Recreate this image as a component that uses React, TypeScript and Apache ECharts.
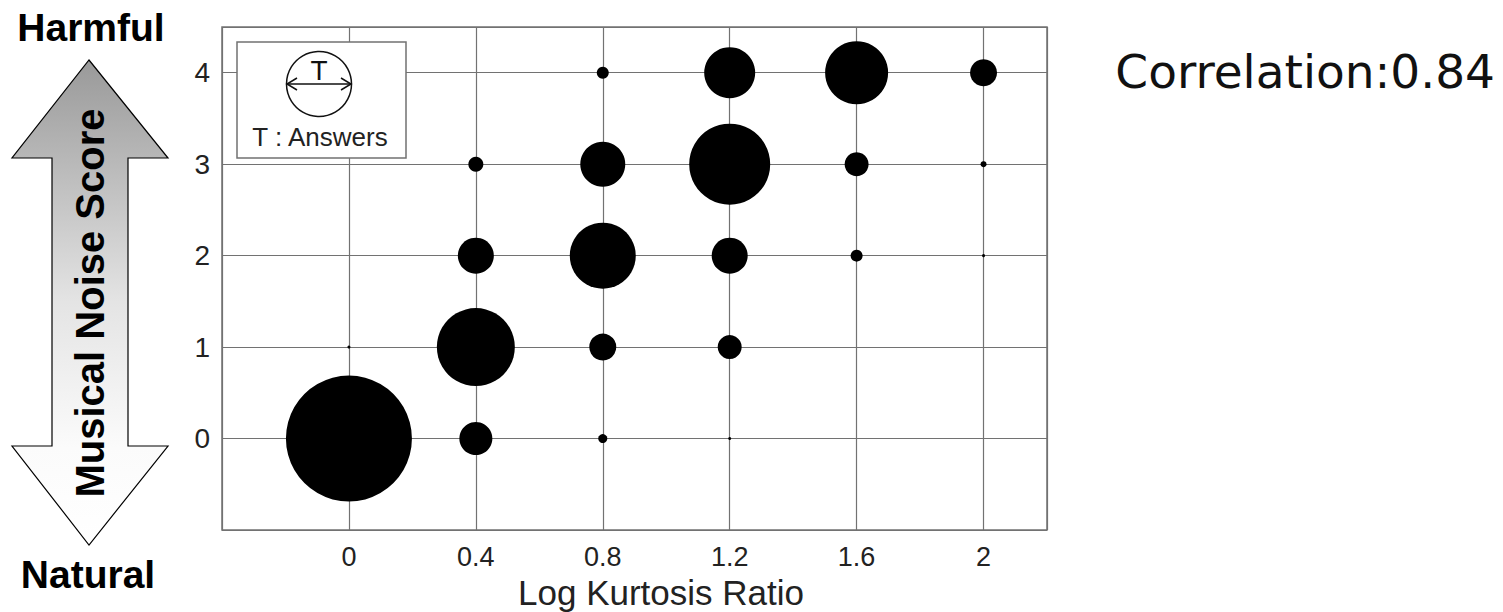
import React, { useEffect, useRef } from "react";
import * as echarts from "echarts";

// Axis ticks
const xTickValues = [0, 0.4, 0.8, 1.2, 1.6, 2];
const yTickValues = [0, 1, 2, 3, 4];

// Bubbles: log kurtosis ratio, musical noise score, number of answers
const pointX = [0, 0, 0.4, 0.4, 0.4, 0.4, 0.8, 0.8, 0.8, 0.8, 0.8, 1.2, 1.2, 1.2, 1.2, 1.2, 1.6, 1.6, 1.6, 2, 2, 2];
const pointY = [0, 1, 0, 1, 2, 3, 0, 1, 2, 3, 4, 0, 1, 2, 3, 4, 2, 3, 4, 2, 3, 4];
const answers = [42, 1, 11, 26, 12, 5, 3, 9, 22, 15, 4, 1, 8, 12, 27, 17, 4, 8, 21, 1, 2, 9];

const correlationText = "Correlation:0.84";
const xAxisTitle = "Log Kurtosis Ratio";
const yAxisTitle = "Musical Noise Score";
const topLabel = "Harmful";
const bottomLabel = "Natural";
const legendLabel = "T : Answers";

const PX_PER_ANSWER = 3;
const SANS = "'Liberation Sans', Arial, sans-serif";

export default function App() {
  const ref = useRef<HTMLDivElement>(null);

  useEffect(() => {
    if (!ref.current) return;
    const chart = echarts.init(ref.current, undefined, { renderer: "svg" });
    const data = pointX.map((x, i) => [x, pointY[i], answers[i]]);
    const fmtX = (v: number) => {
      const r = Math.round(v * 10) / 10;
      return xTickValues.some((t) => Math.abs(t - r) < 1e-6) ? String(r) : "";
    };
    const fmtY = (v: number) => {
      const r = Math.round(v * 10) / 10;
      return yTickValues.some((t) => Math.abs(t - r) < 1e-6) ? String(r) : "";
    };
    const gridColor = "#727272";
    const centered = { align: "center", verticalAlign: "middle", textAlign: "center", textVerticalAlign: "middle" };
    chart.setOption({
      animation: false,
      backgroundColor: "#ffffff",
      grid: {
        left: 222,
        right: 456,
        top: 27,
        bottom: 82,
        show: true,
        borderColor: gridColor,
        borderWidth: 1.5,
        backgroundColor: "transparent",
      },
      xAxis: {
        type: "value",
        min: -0.4,
        max: 2.2,
        interval: 0.4,
        axisLine: { show: false },
        axisTick: { show: false },
        splitLine: { show: true, lineStyle: { color: gridColor, width: 1.2 } },
        axisLabel: {
          formatter: fmtX,
          fontFamily: SANS,
          fontSize: 27,
          lineHeight: 27,
          color: "#222",
          margin: 13,
          showMinLabel: true,
          showMaxLabel: true,
        },
      },
      yAxis: {
        type: "value",
        min: -1,
        max: 4.5,
        interval: 1,
        axisLine: { show: false },
        axisTick: { show: false },
        splitLine: { show: true, lineStyle: { color: gridColor, width: 1.2 } },
        axisLabel: {
          formatter: fmtY,
          fontFamily: SANS,
          fontSize: 28,
          color: "#222",
          margin: 12,
        },
      },
      series: [
        {
          type: "scatter",
          data,
          symbol: "circle",
          symbolSize: (v: number[]) => v[2] * PX_PER_ANSWER,
          itemStyle: { color: "#000000", opacity: 1 },
          z: 3,
        },
      ],
      graphic: [
        // Double arrow on the left
        {
          type: "polygon",
          z: 10,
          shape: {
            points: [
              [89, 60],
              [168, 158],
              [128, 158],
              [128, 446],
              [168, 446],
              [89, 545],
              [12, 446],
              [52, 446],
              [52, 158],
              [12, 158],
            ],
          },
          style: {
            fill: new echarts.graphic.LinearGradient(0, 0, 0, 1, [
              { offset: 0, color: "#999999" },
              { offset: 0.5, color: "#e4e4e4" },
              { offset: 0.8, color: "#fbfbfb" },
              { offset: 1, color: "#ffffff" },
            ]),
            stroke: "#000",
            lineWidth: 1.2,
          },
        },
        {
          type: "text",
          z: 11,
          x: 90,
          y: 303,
          rotation: Math.PI / 2,
          style: {
            text: yAxisTitle,
            fontFamily: SANS,
            fontWeight: "bold",
            fontSize: 40,
            fill: "#000",
            ...centered,
          },
        },
        {
          type: "text",
          z: 11,
          x: 91,
          y: 27,
          style: { text: topLabel, fontFamily: SANS, fontWeight: "bold", fontSize: 39, fill: "#000", ...centered },
        },
        {
          type: "text",
          z: 11,
          x: 88,
          y: 574,
          style: { text: bottomLabel, fontFamily: SANS, fontWeight: "bold", fontSize: 39, fill: "#000", ...centered },
        },
        // X axis title
        {
          type: "text",
          z: 11,
          x: 661,
          y: 592,
          style: { text: xAxisTitle, fontFamily: SANS, fontSize: 35, lineHeight: 35, fill: "#222", ...centered },
        },
        // Correlation
        {
          type: "text",
          z: 11,
          x: 1495,
          y: 71,
          style: {
            text: correlationText,
            fontFamily: "'DejaVu Sans', Verdana, sans-serif",
            fontSize: 47,
            fill: "#111",
            align: "right",
            verticalAlign: "middle",
            textAlign: "right",
            textVerticalAlign: "middle",
          },
        },
        // Legend box
        {
          type: "rect",
          z: 20,
          shape: { x: 237, y: 42, width: 169, height: 116 },
          style: { fill: "#fff", stroke: gridColor, lineWidth: 1.5 },
        },
        {
          type: "circle",
          z: 21,
          shape: { cx: 319, cy: 84, r: 32.5 },
          style: { fill: "none", stroke: "#111", lineWidth: 1.5 },
        },
        {
          type: "line",
          z: 21,
          shape: { x1: 287, y1: 84, x2: 351, y2: 84 },
          style: { stroke: "#111", lineWidth: 1.5 },
        },
        {
          type: "polyline",
          z: 21,
          shape: { points: [[297, 78], [287, 84], [297, 90]] },
          style: { stroke: "#111", lineWidth: 1.5, fill: "none" },
        },
        {
          type: "polyline",
          z: 21,
          shape: { points: [[341, 78], [351, 84], [341, 90]] },
          style: { stroke: "#111", lineWidth: 1.5, fill: "none" },
        },
        {
          type: "text",
          z: 21,
          x: 319,
          y: 70,
          style: { text: "T", fontFamily: SANS, fontSize: 28, fill: "#111", ...centered },
        },
        {
          type: "text",
          z: 21,
          x: 320,
          y: 137,
          style: { text: legendLabel, fontFamily: SANS, fontSize: 26, fill: "#222", ...centered },
        },
      ],
    });
    return () => chart.dispose();
  }, []);

  return (
    <div
      ref={ref}
      style={{ position: "absolute", left: 0, top: 0, width: 1503, height: 612, background: "#fff" }}
    />
  );
}
